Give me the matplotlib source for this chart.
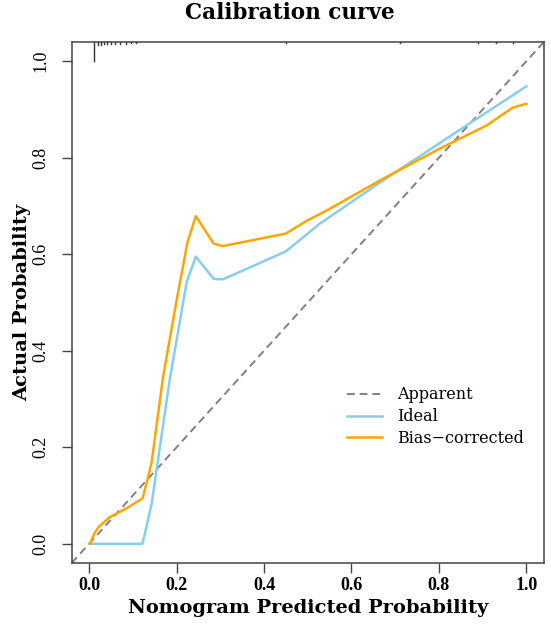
import numpy as np
import matplotlib.pyplot as plt

# calibration curves
ideal_x = [0.0, 0.122, 0.128, 0.143, 0.184, 0.223, 0.244, 0.285, 0.306, 0.45, 0.527,
           0.672, 0.863, 1.0]
ideal_y = [0.0, 0.0, 0.023, 0.083, 0.338, 0.542, 0.595, 0.549, 0.548, 0.606, 0.663,
           0.753, 0.867, 0.948]

bias_x = [0.002, 0.013, 0.021, 0.047, 0.085, 0.122, 0.135, 0.143, 0.169, 0.2, 0.225,
          0.244, 0.285, 0.306, 0.45, 0.497, 0.55, 0.665, 0.802, 0.909, 0.969, 1.0]
bias_y = [0.0, 0.023, 0.034, 0.055, 0.073, 0.094, 0.138, 0.169, 0.345, 0.504, 0.625,
          0.679, 0.622, 0.617, 0.643, 0.669, 0.694, 0.753, 0.819, 0.867, 0.904, 0.912]

# rug of predicted probabilities along the top (position, relative height)
rug_x = [0.011, 0.02, 0.027, 0.034, 0.041, 0.05, 0.059, 0.07, 0.084, 0.096, 0.107,
         0.45, 0.71, 0.89, 0.93, 0.97]
rug_h = [1.0, 0.15, 0.13, 0.12, 0.11, 0.1, 0.09, 0.08, 0.08, 0.07, 0.07,
         0.05, 0.05, 0.05, 0.05, 0.07]

ticks = [0.0, 0.2, 0.4, 0.6, 0.8, 1.0]

plt.rcParams['font.family'] = ['DejaVu Serif']
tickfont = ['Liberation Serif', 'DejaVu Serif']

fig = plt.figure(figsize=(5.51, 6.27), dpi=100)
ax = fig.add_axes([0.130, 0.102, 0.857, 0.831])

ax.plot([-0.04, 1.04], [-0.04, 1.04], ls=(0, (4, 2.5)), c='#808080', lw=1.4, label='Apparent')
ax.plot(ideal_x, ideal_y, c='#87CEEB', lw=1.8, label='Ideal')
ax.plot(bias_x, bias_y, c='#FFA500', lw=1.8, label='Bias\u2212corrected')

# rug segments hanging from the top border
for rx, rh in zip(rug_x, rug_h):
    ax.plot([rx, rx], [1.04, 1.04 - 0.04 * rh], c='#333333', lw=1.0, clip_on=False)

ax.set_xlim(-0.04, 1.04)
ax.set_ylim(-0.04, 1.04)
ax.set_xticks(ticks)
ax.set_yticks(ticks)
ax.set_xticklabels([f'{t:.1f}' for t in ticks], fontweight='bold', fontsize=13, family=tickfont)
ax.set_yticklabels([f'{t:.1f}' for t in ticks], fontsize=13, rotation=90, va='center',
                   family=tickfont)
ax.tick_params(length=7, width=1, color='#444444')
ax.tick_params(axis='x', pad=3)
ax.tick_params(axis='y', pad=9)
for s in ax.spines.values():
    s.set_color('#444444')
    s.set_linewidth(1.1)

ax.set_xlabel('Nomogram Predicted Probability', fontsize=14, fontweight='bold', labelpad=4)
ax.set_ylabel('Actual Probability', fontsize=14, fontweight='bold', labelpad=1)
fig.text(290 / 551, 1 - 13 / 627, 'Calibration curve', fontsize=15.5, fontweight='bold',
         ha='center', va='center')

ax.legend(loc='center left', bbox_to_anchor=(0.553, 0.281), frameon=False, fontsize=11.5,
          handlelength=2.2, labelspacing=0.3, handletextpad=0.95)

fig.savefig('out.png', dpi=100)
